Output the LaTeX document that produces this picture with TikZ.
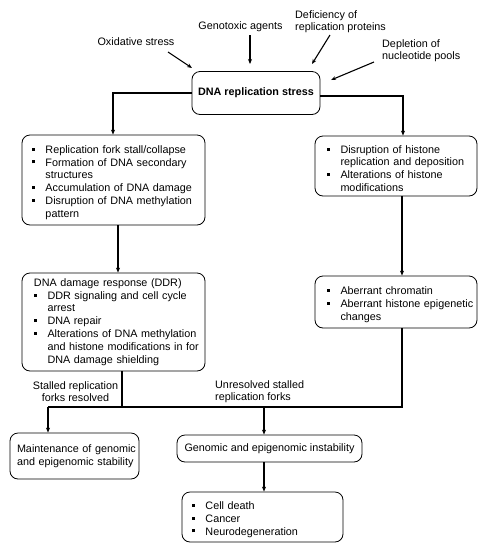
\documentclass[tikz,border=0pt]{standalone}
\usepackage{fontspec}
\setmainfont{Liberation Sans}
\usetikzlibrary{arrows.meta}
\hyphenpenalty=10000
\exhyphenpenalty=10000
\newcommand\bitem{\par\noindent\hangindent=13.5pt\hangafter=1\makebox[13.5pt][l]{\rule[2.6pt]{3pt}{3pt}}}
\tikzset{
  box/.style={draw, line width=0.8pt, rounded corners=8pt, font=\fontsize{10.8}{12.8}\selectfont, inner ysep=2pt, inner xsep=3pt},
  lbl/.style={font=\fontsize{10.8}{12.4}\selectfont, inner sep=0pt},
  conn/.style={line width=1.1pt},
  arr/.style={line width=1.1pt, -{Stealth[length=5pt,width=4pt]}},
}
\begin{document}
\begin{tikzpicture}[x=1pt,y=-1pt]
\useasboundingbox (0,0) rectangle (486,550);
% labels of causes
\node[lbl] (ox) at (136,42) {Oxidative stress};
\node[lbl] (gen) at (240.5,27) {Genotoxic agents};
\node[lbl, align=left, anchor=west] (def) at (295,22) {Deficiency of\\replication proteins};
\node[lbl, align=left, anchor=west] (dep) at (382,51) {Depletion of\\nucleotide pools};
% main box
\node[box, minimum width=128pt, minimum height=43pt, font=\bfseries\fontsize{10.8}{12.8}\selectfont] (st) at (256,93) {DNA replication stress};
% coordinates for cause arrows
\coordinate (oxs) at (168,52); \coordinate (oxe) at (192,68);
\coordinate (gens) at (250,35); \coordinate (gene) at (250,64);
\coordinate (defs) at (330,35); \coordinate (defe) at (312,64);
\coordinate (deps) at (374,62); \coordinate (depe) at (331,80);
\draw[arr] (oxs) -- (oxe);
\draw[arr] (gens) -- (gene);
\draw[arr] (defs) -- (defe);
\draw[arr] (deps) -- (depe);
% second row
\node[box, text width=177pt, minimum height=90pt, align=left] (fork) at (113.5,180) {%
\leftskip=7pt
\bitem Replication fork stall/collapse
\bitem Formation of DNA secondary structures
\bitem Accumulation of DNA damage
\bitem Disruption of DNA methylation pattern\par};
\node[box, text width=156pt, minimum height=60pt, align=left] (his) at (396,166) {%
\leftskip=9pt
\bitem Disruption of histone replication and deposition
\bitem Alterations of histone modifications\par};
% third row
\node[box, text width=177pt, minimum height=98pt, align=left] (ddr) at (113.5,322) {%
\leftskip=9pt
\noindent DNA damage response (DDR)
\bitem DDR signaling and cell cycle arrest
\bitem DNA repair
\bitem Alterations of DNA methylation and histone modifications in for DNA damage shielding\par};
\node[box, text width=156pt, minimum height=52pt, align=left] (abe) at (396,302) {%
\leftskip=9pt
\bitem Aberrant chromatin
\bitem Aberrant histone epigenetic changes\par};
% bottom
\node[box, text width=123pt, minimum height=46pt, align=left] (main) at (74.5,456) {\leftskip=4pt Maintenance of genomic and epigenomic stability\par};
\node[box, minimum width=185pt, minimum height=27pt] (gi) at (269.5,448.5) {Genomic and epigenomic instability};
\node[box, text width=155pt, minimum height=50pt, align=left] (out) at (262.5,517) {%
\leftskip=7pt
\bitem Cell death
\bitem Cancer
\bitem Neurodegeneration\par};
% branch labels
\node[lbl, align=center] (res) at (75.5,391.5) {Stalled replication\\forks resolved};
\node[lbl, align=left, anchor=west] (unr) at (215,391.5) {Unresolved stalled\\replication forks};
% connectors
\coordinate (jl) at (48,407);
\coordinate (jr) at (402,407);
\draw[arr] (st.west) -| (fork.north -| 113,0);
\draw[arr] ([yshift=-3pt]st.east) -| (his.north -| 403,0);
\draw[arr] (fork.south -| 118,0) -- (ddr.north -| 118,0);
\draw[arr] (his.south -| 402,0) -- (abe.north -| 402,0);
\draw[conn] (ddr.south -| 122,0) -- (jl -| 122,0);
\draw[conn] (abe.south -| 402,0) -- (jr) -- (jl);
\draw[arr] (jl) -- (main.north -| jl);
\draw[arr] (jl -| 264,0) -- (gi.north -| 264,0);
\draw[arr] (gi.south -| 264,0) -- (out.north -| 264,0);
\end{tikzpicture}
\end{document}
